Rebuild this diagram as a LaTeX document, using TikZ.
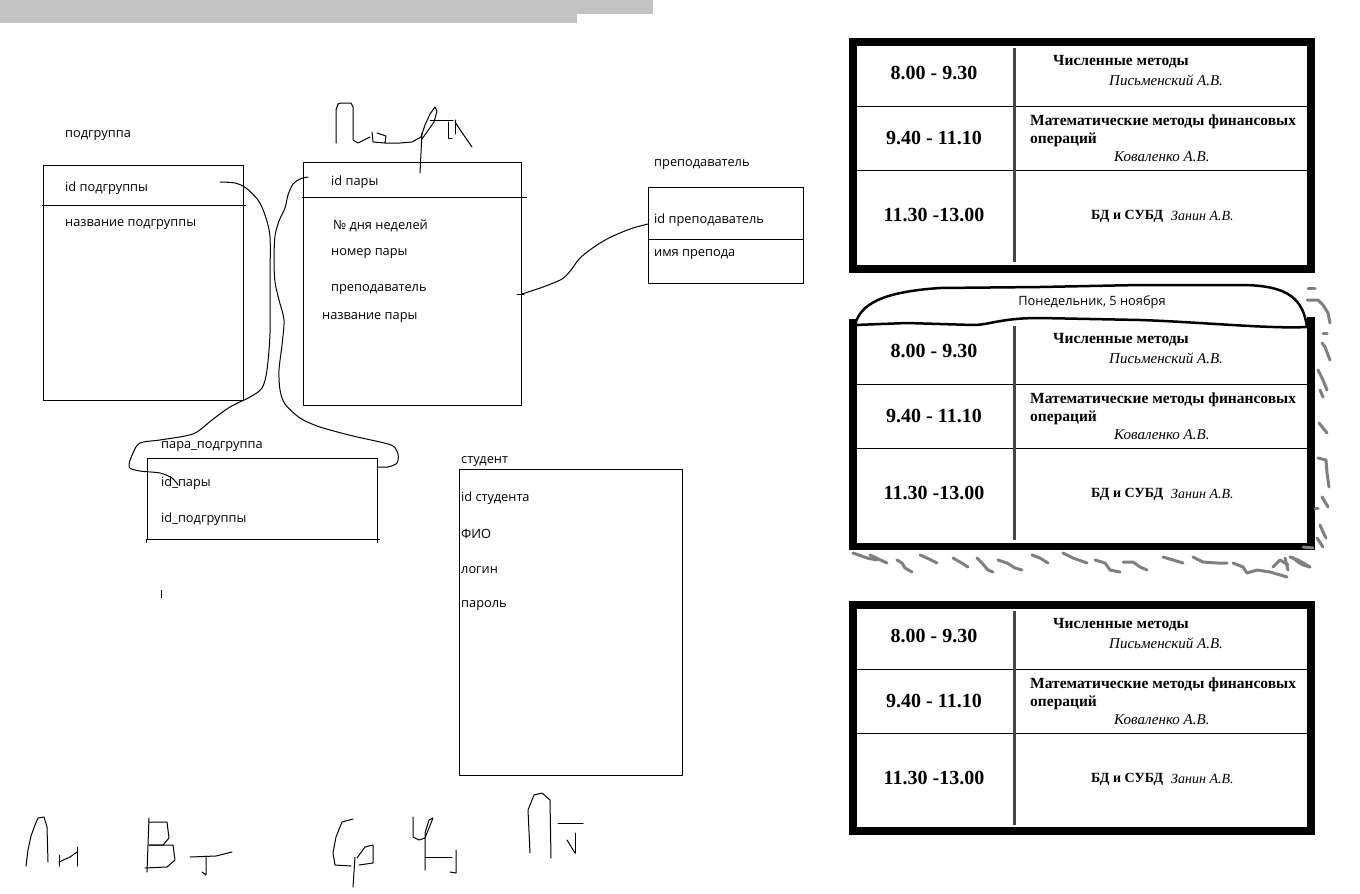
\documentclass[tikz,border=0pt]{standalone}
\usepackage{fontspec}
\setmainfont{Liberation Serif}
\newfontfamily\erfont{Open Sans}
\definecolor{bargray}{RGB}{195,195,195}
\tikzset{
 erbox/.style={draw, line width=1pt, inner sep=0pt, anchor=north west},
 erlabel/.style={font=\erfont\fontsize{12.8}{14}\selectfont, anchor=west, inner sep=0pt},
 hand/.style={line width=1pt, line join=round, line cap=round},
 tbframe/.style={line width=7.5pt},
 tbrow/.style={line width=1pt},
 tbcol/.style={line width=2.5pt, draw=gray!55!black},
 tbtime/.style={font=\bfseries\fontsize{20}{22}\selectfont, inner sep=0pt},
 tbsubj/.style={font=\bfseries\fontsize{15.5}{17}\selectfont, anchor=west, inner sep=0pt},
 tbname/.style={font=\itshape\fontsize{15}{17}\selectfont, anchor=west, inner sep=0pt},
 scribble/.style={line width=3pt, draw=gray, line cap=round, line join=round},
 balloon/.style={line width=2.5pt, line join=round, line cap=round},
}
\newcommand\schedtab[2]{%
\begin{scope}[shift={(0,#1)}]
 \draw[tbrow] (857,106) -- (1307,106);
 \draw[tbrow] (857,170) -- (1307,170);
 \draw[tbcol] (1014.5,48) -- (1014.5,262);
 \node[tbtime] (#2ta) at (934,73) {8.00 - 9.30};
 \node[tbtime] (#2tb) at (934,138) {9.40 - 11.10};
 \node[tbtime] (#2tc) at (934,215) {11.30 -13.00};
 \node[tbsubj] (#2sa) at (1053,62) {Численные методы};
 \node[tbname] (#2na) at (1109,80) {Письменский А.В.};
 \node[tbsubj] (#2sb) at (1030,122) {Математические методы финансовых};
 \node[tbsubj] (#2sc) at (1030,140) {операций};
 \node[tbname] (#2nb) at (1114,157) {Коваленко А.В.};
 \node[tbsubj, font=\bfseries\fontsize{14}{15}\selectfont] (#2sd) at (1091,216) {БД и СУБД};
 \node[tbname, font=\itshape\fontsize{14}{15}\selectfont] (#2nd) at (1171,216) {Занин А.В.};
\end{scope}}
\begin{document}
\begin{tikzpicture}[x=1pt,y=-1pt]
\useasboundingbox (0,0) rectangle (1360,894);
\fill[white] (0,0) rectangle (1360,894);
% top grey bars
\fill[bargray] (0,0) rectangle (653,14);
\fill[bargray] (0,14) rectangle (577,23);

% ---------- ER boxes ----------
\node[erlabel] (lpodgr) at (65,136) {подгруппа};
\node[erbox, minimum width=200pt, minimum height=235pt] (podgr) at (43,165) {};
\draw[line width=1pt] (42,205) -- (246,205);
\node[erlabel] (fpodgr1) at (65,188) {id подгруппы};
\node[erlabel] (fpodgr2) at (65,225) {название подгруппы};

\node[erbox, minimum width=218.5pt, minimum height=243pt] (para) at (302.5,162) {};
\draw[line width=1pt] (302,197) -- (527,197);
\node[erlabel] (fpara1) at (331,182) {id пары};
\node[erlabel] (fpara2) at (333,226) {№ дня неделей};
\node[erlabel] (fpara3) at (331,254) {номер пары};
\node[erlabel] (fpara4) at (331,290) {преподаватель};
\node[erlabel] (fpara5) at (322,318) {название пары};

\node[erlabel] (lprep) at (654,165) {преподаватель};
\node[erbox, minimum width=155pt, minimum height=96pt] (prep) at (648,187) {};
\draw[line width=1pt] (648,239) -- (804,239);
\node[erlabel] (fprep1) at (654,220) {id преподаватель};
\node[erlabel] (fprep2) at (654,255) {имя препода};

\node[erlabel] (lpp) at (161,447) {пара\_подгруппа};
\node[erbox, minimum width=230.5pt, minimum height=81.5pt] (pp) at (146.5,457.5) {};
\draw[line width=1pt] (377,539) -- (380,539);
\draw[line width=1pt] (146.5,539) -- (146.5,543);
\draw[line width=1pt] (377,539) -- (377,543);
\node[erlabel] (fpp1) at (161,483) {id\_пары};
\node[erlabel] (fpp2) at (161,519) {id\_подгруппы};
\draw[line width=1pt] (161,590) -- (161,598);

\node[erlabel] (lstud) at (461,462) {студент};
\node[erbox, minimum width=223pt, minimum height=306pt] (stud) at (459,469) {};
\node[erlabel] (fstud1) at (461,498) {id студента};
\node[erlabel] (fstud2) at (461,534) {ФИО};
\node[erlabel] (fstud3) at (461,570) {логин};
\node[erlabel] (fstud4) at (461,606) {пароль};

% ---------- hand connectors ----------
\coordinate (ca) at (220,182);
\coordinate (cb) at (178,485);
\draw[hand] plot[smooth, tension=0.5] coordinates {(ca) (235,183) (246,188) (258,200) (265,215) (270,237) (270,280) (270,333) (267,370) (262,388) (250,397) (230,407) (212,420) (197,432) (185,436) (160,440) (140,443) (133,453) (129,467) (140,471) (160,473) (172,478) (cb)};
\coordinate (cc) at (308,177);
\coordinate (cd) at (377,467);
\draw[hand] plot[smooth, tension=0.5] coordinates {(cc) (300,179) (293,184) (288,195) (285,208) (279,221) (275,236) (274,260) (275,282) (279,300) (284,320) (282,345) (279,370) (280,390) (285,404) (300,418) (320,427) (353,436) (380,442) (393,446) (398,454) (397,463) (388,467) (cd)};
\coordinate (ce) at (522,294);
\coordinate (cf) at (648,224);
\draw[hand] (517,294) -- (524,294);
\draw[hand] plot[smooth, tension=0.5] coordinates {(ce) (543,287) (562,279) (571,270) (580,258) (594,247) (607,239) (620,233) (633,228) (cf)};

% ---------- handwriting top ----------
\coordinate (hp) at (420,173);
\draw[hand] (336,143) -- (336,110) -- (338,104) -- (341,103) -- (351,103) -- (353,107) -- (353,140) -- (358,143) -- (364,140) -- (370,137);
\draw[hand] (372,132) -- (373,142) -- (385,143) -- (386,136) -- (377,133);
\draw[hand] (385,143) -- (400,143) -- (412,142) -- (421,137);
\draw[hand] (421,137) -- (425,125) -- (430,114) -- (435,107) -- (437,111) -- (434,122) -- (427,132) -- (422,139);
\draw[hand] (430,120) -- (453,120);
\draw[hand] (448,122) -- (448,138) -- (452,138);
\draw[hand] (455,120) -- (455,134);
\draw[hand] (455,122) -- (463,134) -- (472,147);
\draw[hand] (422,133) -- (hp);

% ---------- handwriting bottom ----------
\draw[hand] (26,866) -- (28,850) -- (31,836) -- (35,825) -- (38,818) -- (44,817) -- (47,827) -- (48,862);
\draw[hand] (59,855) -- (59,866);
\draw[hand] (59,862) -- (70,857) -- (77,852);
\draw[hand] (77,847) -- (77,866);
\draw[hand] (149,818) -- (147,872);
\draw[hand] (149,822) -- (167,822) -- (169,838) -- (163,845) -- (149,845);
\draw[hand] (149,845) -- (173,845) -- (175,860) -- (167,867) -- (145,868);
\draw[hand] (190,857) -- (216,856) -- (232,852);
\draw[hand] (206,856) -- (206,875) -- (202,872);
\draw[hand] (353,819) -- (342,822) -- (336,837) -- (333,853) -- (335,865) -- (351,866);
\draw[hand] (357,858) -- (365,847) -- (373,845) -- (373,863) -- (359,865);
\draw[hand] (355,857) -- (353,887);
\draw[hand] (413,817) -- (413,837) -- (419,840) -- (425,838) -- (431,823) -- (433,818) -- (429,820) -- (425,833) -- (425,870);
\draw[hand] (425,857) -- (452,857);
\draw[hand] (456,850) -- (456,873) -- (450,872);
\draw[hand] (530,853) -- (528,810) -- (534,795) -- (542,793) -- (550,800) -- (551,858);
\draw[hand] (558,823) -- (583,823);
\draw[hand] (575,853) -- (575,833);
\draw[hand] (567,840) -- (575,853);

% ---------- schedule tables ----------
\draw[tbframe] (853,42) rectangle (1311,269);
\schedtab{0}{A}

\draw[tbframe] (853,319) -- (853,546.5) -- (1311,546.5) -- (1311,317);
\schedtab{278}{B}
\draw[balloon] (855,325) .. controls (860,305) and (880,292) .. (940,288)
  -- (1040,287) -- (1140,285) -- (1240,285)
  .. controls (1290,285) and (1303,300) .. (1307,327)
  .. controls (1270,329) and (1200,322) .. (1140,320)
  -- (1040,318) .. controls (1000,318) and (990,325) .. (973,325)
  -- (907,323) -- (855,325);
\node[erlabel, anchor=center] (mon) at (1092,302) {Понедельник, 5 ноября};
% grey scribbles
\draw[scribble] (1308,288) -- (1315,288);
\draw[scribble] (1307,300) -- (1318,300) -- (1323,305) -- (1328,313) -- (1330,323);
\draw[scribble] (1323,333) -- (1327,333);
\draw[scribble] (1322,343) -- (1325,347) -- (1328,355) -- (1330,360);
\draw[scribble] (1318,370) -- (1323,380) -- (1327,390);
\draw[scribble] (1320,390) -- (1323,397);
\draw[scribble] (1319,423) -- (1323,428) -- (1327,433);
\draw[scribble] (1318,458) -- (1326,460) -- (1327,473) -- (1329,487);
\draw[scribble] (1322,497) -- (1325,502) -- (1328,507);
\draw[scribble] (1315,508) -- (1318,508);
\draw[scribble] (1320,525) -- (1323,532) -- (1326,538);
\draw[scribble] (1317,538) -- (1323,547);
\draw[scribble] (1292,557) -- (1298,562) -- (1303,565) -- (1310,567);
\draw[scribble] (1303,547) -- (1313,548);
\draw[scribble] (853,553) -- (867,558) -- (877,560);
\draw[scribble] (870,555) -- (887,563);
\draw[scribble] (897,560) -- (902,563) -- (905,568) -- (912,572);
\draw[scribble] (920,555) -- (927,558) -- (937,563);
\draw[scribble] (953,558) -- (960,562) -- (968,567);
\draw[scribble] (977,558) -- (982,563) -- (988,570) -- (993,572);
\draw[scribble] (998,560) -- (1007,563) -- (1015,568) -- (1022,570);
\draw[scribble] (1032,555) -- (1040,558) -- (1048,563);
\draw[scribble] (1063,553) -- (1073,558) -- (1087,563);
\draw[scribble] (1095,560) -- (1105,563) -- (1110,570) -- (1120,572);
\draw[scribble] (1123,562) -- (1133,562) -- (1140,567) -- (1147,570);
\draw[scribble] (1163,557) -- (1173,560) -- (1183,563);
\draw[scribble] (1193,557) -- (1203,562) -- (1217,563) -- (1227,563);
\draw[scribble] (1233,563) -- (1243,567) -- (1247,573) -- (1257,570) -- (1270,572) -- (1287,577);
\draw[scribble] (1273,567) -- (1280,560) -- (1288,565);
\draw[scribble] (1285,558) -- (1288,570);
\draw[scribble] (1290,557) -- (1298,560) -- (1310,567);

\draw[tbframe] (853,605) rectangle (1311,831);
\schedtab{563}{C}
\end{tikzpicture}
\end{document}
